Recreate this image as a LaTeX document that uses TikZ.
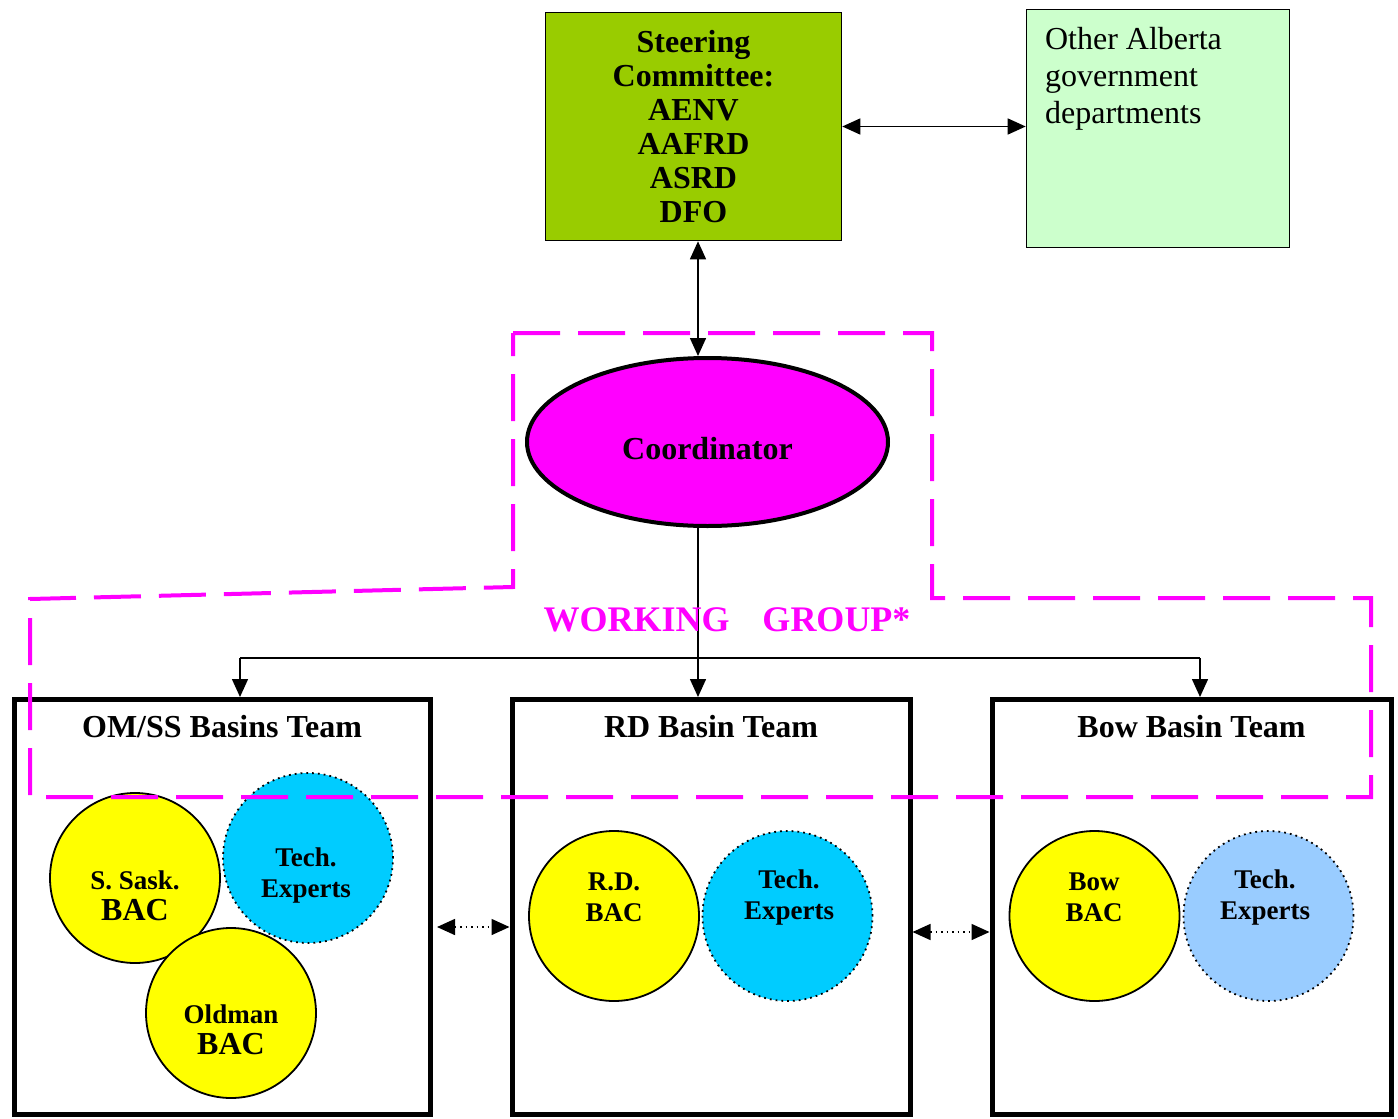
\documentclass[tikz,border=0pt]{standalone}
\usepackage{fontspec}
\setmainfont{Liberation Serif}
\usepackage{xcolor}
\usetikzlibrary{positioning,arrows.meta,shapes.geometric,calc}

\definecolor{steergreen}{HTML}{99CC00}
\definecolor{othergreen}{HTML}{CCFFCC}
\definecolor{wgmagenta}{HTML}{FF00FF}
\definecolor{bacyellow}{HTML}{FFFF00}
\definecolor{techcyan}{HTML}{00CCFF}
\definecolor{techblue}{HTML}{99CCFF}

\begin{document}
\begin{tikzpicture}[>={Triangle[length=9pt,width=8pt]}, x=0.5pt, y=-0.5pt,
    teambox/.style={draw, line width=2.5pt, minimum height=207.5pt, inner sep=0pt},
    teamtitle/.style={font=\bfseries\fontsize{16}{18}\selectfont, anchor=center, yshift=-14.75pt},
    baccircle/.style={circle, draw, line width=0.9pt, fill=bacyellow, minimum size=85pt, inner sep=0pt},
    techcircle/.style={circle, draw, dotted, line width=0.9pt, minimum size=85pt, inner sep=0pt},
    circtext/.style={font=\bfseries\fontsize{13.5}{15.5}\selectfont, align=center},
    link/.style={line width=0.75pt}]
    \useasboundingbox (0,0) rectangle (1398,1119);

    % comite e outros departamentos
    \node[draw, line width=0.8pt, fill=steergreen, minimum width=148pt, minimum height=114pt,
          inner sep=0pt, align=center, font=\bfseries\fontsize{16}{17}\selectfont]
        (steer) at (693.5,126.5) {Steering\\Committee:\\AENV\\AAFRD\\ASRD\\DFO};
    \node[draw, line width=0.8pt, fill=othergreen, minimum width=131.5pt, minimum height=119pt, inner sep=0pt,
          label={[anchor=north west, align=left, inner sep=0pt, xshift=9.5pt, yshift=-9.25pt,
                  font=\fontsize{16}{18.5}\selectfont]north west:Other Alberta\\government\\departments}]
        (other) at (1158,128.5) {};

    % coordenador
    \node[ellipse, draw, line width=2pt, fill=wgmagenta, minimum width=180.5pt, minimum height=84pt,
          font=\bfseries\fontsize{16}{18}\selectfont] (coord) at (707.5,442)
        {\raisebox{-3.5pt}[\height][\depth]{Coordinator}};

    % equipes das bacias
    \node[teambox, minimum width=208pt, label={[teamtitle]north:OM/SS Basins Team}] (om) at (222,907) {};
    \node[teambox, minimum width=199pt, label={[teamtitle]north:RD Basin Team}] (rd) at (711,907) {};
    \node[teambox, minimum width=199.5pt, label={[teamtitle]north:Bow Basin Team}] (bow) at (1191.5,907) {};

    % circulos dentro das equipes
    \node[techcircle, fill=techcyan] (omtech) at (308,858) {};
    \node[baccircle] (sask) at (135,878) {};
    \node[baccircle] (oldman) at (231,1013) {};
    \node[baccircle] (rdbac) at (614,916) {};
    \node[techcircle, fill=techcyan] (rdtech) at (787.5,916) {};
    \node[baccircle] (bowbac) at (1094.5,916) {};
    \node[techcircle, fill=techblue] (bowtech) at (1268.5,916) {};

    \node[circtext] (sasktxt) at (135,896) {S. Sask.\\{\fontsize{16}{18}\selectfont BAC}};
    \node[circtext] (oldmantxt) at (231,1030) {Oldman\\{\fontsize{16}{18}\selectfont BAC}};
    \node[circtext] (omtechtxt) at (306,875) {Tech.\\Experts};
    \node[circtext] (rdbactxt) at (614,897) {R.D.\\BAC};
    \node[circtext] (rdtechtxt) at (789,897) {Tech.\\Experts};
    \node[circtext] (bowbactxt) at (1094,897) {Bow\\BAC};
    \node[circtext] (bowtechtxt) at (1265,897) {Tech.\\Experts};

    % ligacoes
    \coordinate (cx) at (698,0);
    \coordinate (bus) at (0,658);
    \coordinate (omin) at (240,658);
    \coordinate (bowin) at (1200,658);
    \draw[link, <->] (steer.east) -- (other.west |- steer.east);
    \draw[link, <->] (steer.south -| cx) -- (coord.north -| cx);
    \draw[link, ->] (coord.south -| cx) -- (rd.north -| cx);
    \draw[link] (omin) -- (bowin);
    \draw[link, ->] (omin) -- (omin |- om.north);
    \draw[link, ->] (bowin) -- (bowin |- bow.north);

    % setas pontilhadas entre equipes
    \coordinate (d1) at (437,927);
    \coordinate (d2) at (0,932);
    \draw[link, dotted, <->] (d1) -- (rd.west |- d1);
    \draw[link, dotted, <->] (rd.east |- d2) -- (bow.west |- d2);

    % grupo de trabalho (contorno tracejado)
    \draw[draw=wgmagenta, line width=2pt, dash pattern=on 23.5pt off 9pt]
        (513,333) -- (932,333) -- (932,598) -- (1371,598) -- (1371,797) -- (30,797) -- (30,599) -- (513,587) -- cycle;
    \node[font=\bfseries\fontsize{18}{20}\selectfont, text=wgmagenta] (wg) at (727,620) {WORKING\hspace{16.5pt}GROUP*};
\end{tikzpicture}
\end{document}
